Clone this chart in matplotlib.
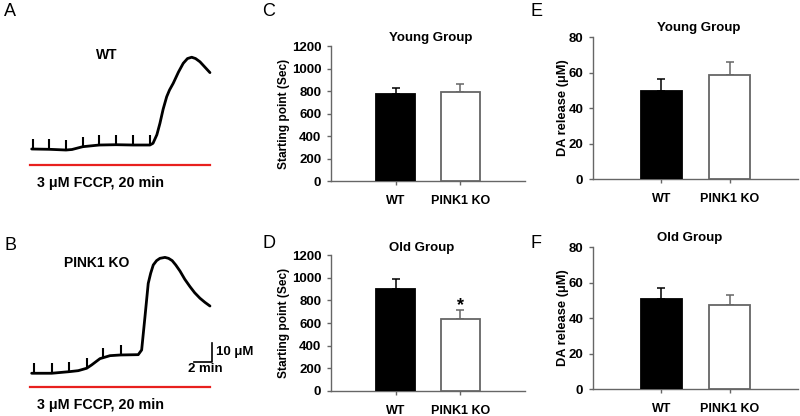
import numpy as np
import matplotlib
matplotlib.use('Agg')
import matplotlib.pyplot as plt

plt.rcParams['font.family'] = ['Liberation Sans', 'DejaVu Sans']
plt.rcParams['font.weight'] = 'bold'

# amperometric traces: time (min) vs DA above baseline (uM)
wt_t = [0.19, 2.14, 4.0, 4.67, 5.86, 7.7, 9.56, 11.44, 13.33, 13.67, 14.1, 14.44,
        14.8, 15.19, 15.5, 15.92, 16.5, 17.03, 17.5, 17.97, 18.4, 18.89, 20.0]
wt_y = [0.0, -0.16, -0.53, -0.26, 1.21, 2.1, 2.26, 2.1, 2.1, 3.0, 7.5, 13.5,
        21.0, 27.5, 31.0, 34.6, 40.5, 45.1, 47.6, 48.3, 47.6, 45.9, 40.2]
wt_marks = [0.3, 2.14, 4.0, 5.86, 7.7, 9.56, 11.44, 13.33]

ko_t = [0.19, 2.41, 4.37, 5.37, 6.3, 6.85, 7.78, 8.89, 10.08, 12.03, 12.41, 12.78,
        13.14, 13.41, 13.7, 14.07, 14.44, 15.0, 15.4, 15.8, 16.2, 16.67, 17.2, 17.78,
        18.3, 18.89, 19.45, 20.0]
ko_y = [0.0, 0.0, 0.84, 1.37, 2.63, 4.37, 7.7, 9.26, 9.63, 9.79, 12.26, 29.8,
        47.3, 52.6, 57.0, 59.3, 60.5, 61.0, 60.5, 59.3, 57.0, 53.8, 49.5, 45.6,
        42.4, 39.5, 37.3, 35.4]
ko_marks = [0.44, 2.41, 4.37, 6.3, 8.14, 10.08]

fccp_min = 20

groups = ['WT', 'PINK1 KO']
start_young = [773, 787]
start_young_err = [50, 74]
start_old = [902, 637]
start_old_err = [83, 76]
da_young = [49.6, 58.8]
da_young_err = [7.0, 7.3]
da_old = [50.8, 47.2]
da_old_err = [6.0, 5.6]

fig = plt.figure(figsize=(8, 4.16), dpi=100)

gray = '#666666'


def trace_panel(rect, ylim, t, y, marks, name, bar_y, label_y, scale=False):
    ax = fig.add_axes(rect)
    ax.set_xlim(-3.33, 25.56)
    ax.set_ylim(*ylim)
    ax.axis('off')
    ax.plot(t, y, color='black', lw=2, solid_capstyle='round', solid_joinstyle='round')
    ax.plot(marks, np.interp(marks, t, y), ls='none', marker=2, ms=7.5, mew=1.5, color='black')
    ax.plot([0, fccp_min], [bar_y, bar_y], color='#e8201e', lw=1.6)
    ax.text(0.41 if name == 'WT' else 0.373, 0.736, name, transform=ax.transAxes,
            ha='center', va='center', fontsize=10)
    ax.text(0.142, label_y, '3 \u03bcM FCCP, 20 min', transform=ax.transAxes,
            ha='left', va='center', fontsize=10.3)
    if scale:
        x0, y0 = 20.2, 6.0
        ax.plot([x0 - 2, x0, x0], [y0, y0, y0 + 10], color='black', lw=1.2)
        ax.text(x0 + 0.5, y0 + 5, '10 \u03bcM', ha='left', va='center', fontsize=9.5)
        ax.text(x0 - 0.7, y0 - 0.8, '2 min', ha='center', va='top', fontsize=9.5)
    return ax


trace_panel([0, 0.5, 0.325, 0.5], (-31.05, 78.42), wt_t, wt_y, wt_marks, 'WT', -8.42, 0.12)
trace_panel([0, 0.0, 0.325, 0.5], (-22.5, 87.0), ko_t, ko_y, ko_marks, 'PINK1 KO', -7.2, 0.053,
            scale=True)


def bar_panel(rect, vals, errs, ymax, step, ylabel, lsize, title, title_x, title_y, label_x):
    ax = fig.add_axes(rect)
    x = np.arange(1, 3)
    ax.bar(x, vals, width=0.6, color=['black', 'white'], edgecolor=['black', gray],
           linewidth=1.3, zorder=3)
    for xi, v, e, c in zip(x, vals, errs, ['black', gray]):
        ax.errorbar(xi, v, yerr=[[0], [e]], fmt='none', ecolor=c, elinewidth=1.1,
                    capsize=3, capthick=1.1, zorder=2)
    ax.set_xlim(0, 3)
    ax.set_ylim(0, ymax)
    ax.set_yticks(np.arange(0, ymax + 1, step))
    ax.set_xticks(x)
    ax.set_xticklabels(groups)
    for s in ['top', 'right']:
        ax.spines[s].set_visible(False)
    for s in ['left', 'bottom']:
        ax.spines[s].set_color(gray)
        ax.spines[s].set_linewidth(1.0)
    ax.tick_params(axis='both', colors=gray, labelcolor='black', labelsize=9.5,
                   length=3, width=1.0, pad=4)
    ax.tick_params(axis='x', pad=7, labelsize=9)
    ax.set_ylabel(ylabel, fontsize=lsize, fontweight='bold')
    ax.yaxis.set_label_coords(label_x, 0.5)
    ax.text(title_x, title_y, title, transform=ax.transAxes, ha='left', va='center',
            fontsize=9.5)
    return ax


bar_panel([0.41375, 0.5649, 0.2425, 0.3245], start_young, start_young_err, 1200, 200,
          'Starting point (Sec)', 8.6, 'Young Group', 0.30, 1.059, -0.21)
axd = bar_panel([0.41375, 0.0601, 0.2425, 0.3269], start_old, start_old_err, 1200, 200,
                'Starting point (Sec)', 8.6, 'Old Group', 0.30, 1.051, -0.21)
axd.text(2, start_old[1] + start_old_err[1] + 45, '*', ha='center', va='center', fontsize=13)
bar_panel([0.74125, 0.5697, 0.25625, 0.3413], da_young, da_young_err, 80, 20,
          'DA release (\u03bcM)', 9.3, 'Young Group', 0.312, 1.063, -0.115)
bar_panel([0.74125, 0.0649, 0.25625, 0.3413], da_old, da_old_err, 80, 20,
          'DA release (\u03bcM)', 9.3, 'Old Group', 0.312, 1.063, -0.115)

for letter, px, py in [('A', 4, 12), ('B', 4, 246), ('C', 262, 12), ('D', 262, 244),
                       ('E', 530, 12), ('F', 530, 244)]:
    fig.text(px / 800, 1 - py / 416, letter, ha='left', va='center', fontsize=13,
             fontweight='normal', family='Liberation Sans')

fig.savefig('out.png', dpi=100)
